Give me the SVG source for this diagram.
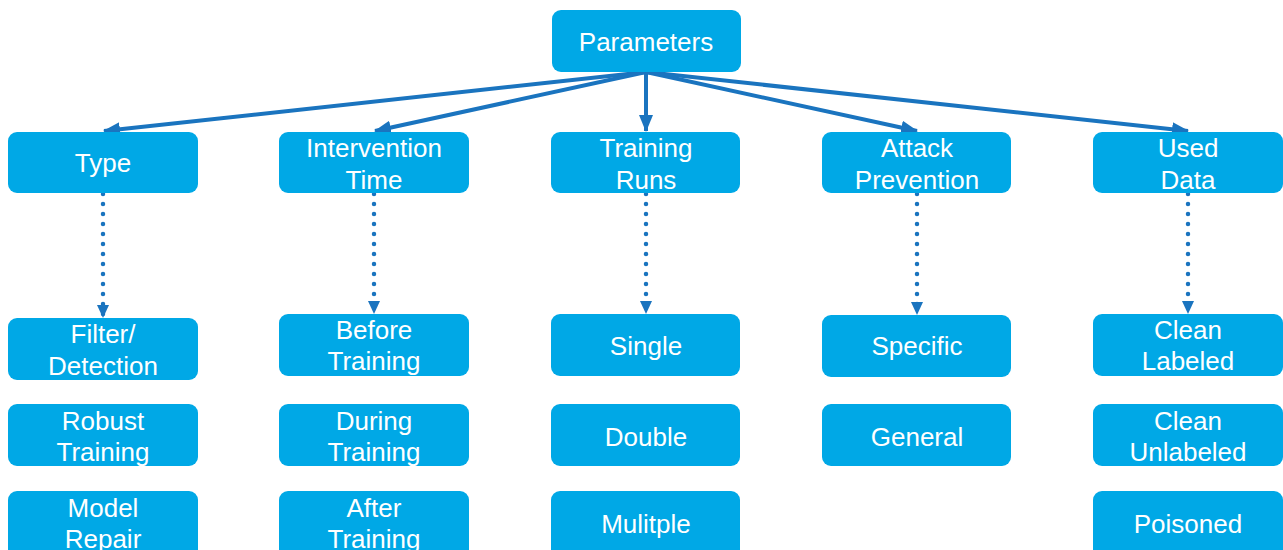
<svg xmlns="http://www.w3.org/2000/svg" width="1283" height="550" viewBox="0 0 1283 550">
  <style>
    .box { fill: #00a8e6; }
    .lbl { font-family: "Liberation Sans", Arial, sans-serif; font-size: 26px; fill: #ffffff; text-anchor: middle; }
    .solid { stroke: #1a74bf; stroke-width: 4; fill: none; }
    .dot { stroke: #1a74bf; stroke-width: 4.5; fill: none; stroke-linecap: round; stroke-dasharray: 0 10; }
  </style>
  <defs>
    <!-- arrowheads sized in user units so they stay put whatever the stroke -->
    <marker id="head" viewBox="0 0 17 14" refX="16" refY="7" markerWidth="17" markerHeight="14" markerUnits="userSpaceOnUse" orient="auto">
      <path d="M0,0 L17,7 L0,14 Z" fill="#1a74bf"/>
    </marker>
    <marker id="headDot" viewBox="0 0 13 12" refX="12" refY="6" markerWidth="13" markerHeight="12" markerUnits="userSpaceOnUse" orient="auto">
      <path d="M0,0 L13,6 L0,12 Z" fill="#1a74bf"/>
    </marker>
  </defs>

  <g id="connectors">
    <line class="solid" x1="646" y1="72" x2="104" y2="131" marker-end="url(#head)"/>
    <line class="solid" x1="646" y1="72" x2="375" y2="131" marker-end="url(#head)"/>
    <line class="solid" x1="646" y1="72" x2="646" y2="131" marker-end="url(#head)"/>
    <line class="solid" x1="646" y1="72" x2="917" y2="131" marker-end="url(#head)"/>
    <line class="solid" x1="646" y1="72" x2="1188" y2="131" marker-end="url(#head)"/>
    <line class="dot" x1="103" y1="194" x2="103" y2="317" marker-end="url(#headDot)"/>
    <line class="dot" x1="374" y1="194" x2="374" y2="313" marker-end="url(#headDot)"/>
    <line class="dot" x1="646" y1="194" x2="646" y2="313" marker-end="url(#headDot)"/>
    <line class="dot" x1="917" y1="194" x2="917" y2="314" marker-end="url(#headDot)"/>
    <line class="dot" x1="1188" y1="194" x2="1188" y2="313" marker-end="url(#headDot)"/>
  </g>

  <g id="parameters"><rect class="box" x="552" y="10" width="189" height="62" rx="9"/><text class="lbl" x="646" y="51">Parameters</text></g>

  <g id="type"><rect class="box" x="8" y="132" width="190" height="61" rx="9"/><text class="lbl" x="103" y="172">Type</text></g>
  <g id="intervention-time"><rect class="box" x="279" y="132" width="190" height="61" rx="9"/><text class="lbl" x="374" y="157">Intervention</text><text class="lbl" x="374" y="189">Time</text></g>
  <g id="training-runs"><rect class="box" x="551" y="132" width="189" height="61" rx="9"/><text class="lbl" x="646" y="157">Training</text><text class="lbl" x="646" y="189">Runs</text></g>
  <g id="attack-prevention"><rect class="box" x="822" y="132" width="189" height="61" rx="9"/><text class="lbl" x="917" y="157">Attack</text><text class="lbl" x="917" y="189">Prevention</text></g>
  <g id="used-data"><rect class="box" x="1093" y="132" width="190" height="61" rx="9"/><text class="lbl" x="1188" y="157">Used</text><text class="lbl" x="1188" y="189">Data</text></g>

  <g id="filter-detection"><rect class="box" x="8" y="318" width="190" height="62" rx="9"/><text class="lbl" x="103" y="343">Filter/</text><text class="lbl" x="103" y="375">Detection</text></g>
  <g id="robust-training"><rect class="box" x="8" y="404" width="190" height="62" rx="9"/><text class="lbl" x="103" y="430">Robust</text><text class="lbl" x="103" y="461">Training</text></g>
  <g id="model-repair"><rect class="box" x="8" y="491" width="190" height="70" rx="9"/><text class="lbl" x="103" y="517">Model</text><text class="lbl" x="103" y="548">Repair</text></g>

  <g id="before-training"><rect class="box" x="279" y="314" width="190" height="62" rx="9"/><text class="lbl" x="374" y="339">Before</text><text class="lbl" x="374" y="370">Training</text></g>
  <g id="during-training"><rect class="box" x="279" y="404" width="190" height="62" rx="9"/><text class="lbl" x="374" y="430">During</text><text class="lbl" x="374" y="461">Training</text></g>
  <g id="after-training"><rect class="box" x="279" y="491" width="190" height="70" rx="9"/><text class="lbl" x="374" y="517">After</text><text class="lbl" x="374" y="548">Training</text></g>

  <g id="single"><rect class="box" x="551" y="314" width="189" height="62" rx="9"/><text class="lbl" x="646" y="355">Single</text></g>
  <g id="double"><rect class="box" x="551" y="404" width="189" height="62" rx="9"/><text class="lbl" x="646" y="446">Double</text></g>
  <g id="multiple"><rect class="box" x="551" y="491" width="189" height="70" rx="9"/><text class="lbl" x="646" y="533">Mulitple</text></g>

  <g id="specific"><rect class="box" x="822" y="315" width="189" height="62" rx="9"/><text class="lbl" x="917" y="355">Specific</text></g>
  <g id="general"><rect class="box" x="822" y="404" width="189" height="62" rx="9"/><text class="lbl" x="917" y="446">General</text></g>

  <g id="clean-labeled"><rect class="box" x="1093" y="314" width="190" height="62" rx="9"/><text class="lbl" x="1188" y="339">Clean</text><text class="lbl" x="1188" y="370">Labeled</text></g>
  <g id="clean-unlabeled"><rect class="box" x="1093" y="404" width="190" height="62" rx="9"/><text class="lbl" x="1188" y="430">Clean</text><text class="lbl" x="1188" y="461">Unlabeled</text></g>
  <g id="poisoned"><rect class="box" x="1093" y="491" width="190" height="70" rx="9"/><text class="lbl" x="1188" y="533">Poisoned</text></g>
</svg>
